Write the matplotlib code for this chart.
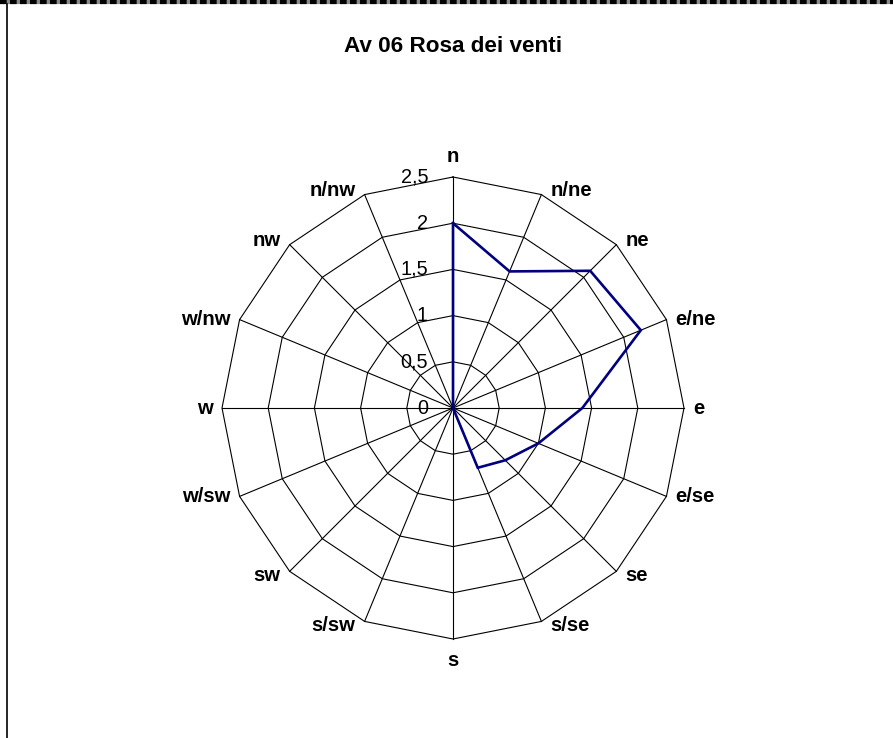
import numpy as np
import matplotlib.pyplot as plt
from matplotlib.lines import Line2D

plt.rcParams['font.family'] = ['Liberation Sans', 'DejaVu Sans']

# wind directions, clockwise from north
directions = ['n', 'n/ne', 'ne', 'e/ne', 'e', 'e/se', 'se', 's/se',
              's', 's/sw', 'sw', 'w/sw', 'w', 'w/nw', 'nw', 'n/nw']
values = [2.0, 1.6, 2.1, 2.2, 1.4, 1.0, 0.8, 0.7,
          0.0, 0.0, 0.0, 0.0, 0.0, 0.0, 0.0, 0.0]
ring_values = [0, 0.5, 1.0, 1.5, 2.0, 2.5]
ring_labels = ['0', '0,5', '1', '1,5', '2', '2,5']
title = 'Av 06 Rosa dei venti'

W, H = 893, 738
cx, cy = 453, 738 - 408          # centre of the rose, pixels from bottom-left
rmax = ring_values[-1]
scale = 231 / rmax               # pixels per unit

fig = plt.figure(figsize=(W / 100, H / 100), dpi=100)
ax = fig.add_axes([0, 0, 1, 1])
ax.set_xlim(-cx / scale, (W - cx) / scale)
ax.set_ylim(-cy / scale, (H - cy) / scale)
ax.axis('off')

n = len(directions)
theta = np.arange(n) * 2 * np.pi / n
sx, cy_ = np.sin(theta), np.cos(theta)

def closed(a):
    return np.append(a, a[0])

# polygon rings
for r in ring_values[1:]:
    ax.plot(closed(r * sx), closed(r * cy_), color='black', lw=0.8)

# spokes
for s, c in zip(sx, cy_):
    ax.plot([0, rmax * s], [0, rmax * c], color='black', lw=0.8)

# data series
v = np.array(values)
ax.plot(closed(v * sx), closed(v * cy_), color='#000080', lw=1.9,
        solid_joinstyle='miter')

# value axis labels
for r, lab in zip(ring_values, ring_labels):
    ax.text(-0.27, r, lab, ha='right', va='center', fontsize=14.3)

# direction labels, pushed out from the outer ring
for name, s, c in zip(directions, sx, cy_):
    if abs(s) < 0.1:
        x, y = 0, (rmax + 21 / scale) * np.sign(c)
        ha = 'center'
    else:
        x = rmax * s + 9 / scale * np.sign(s)
        y = rmax * c + 4 / scale * np.sign(c) * (abs(c) > 0.5)
        ha = 'left' if s > 0 else 'right'
    ax.text(x, y, name, ha=ha, va='center', fontsize=14.6, fontweight='bold')

fig.text(cx / W, 1 - 47 / H, title, ha='center', va='center',
         fontsize=16.2, fontweight='bold')

# frame: dashed top edge and left edge
fig.add_artist(Line2D([0, 1], [1 - 2 / H, 1 - 2 / H], transform=fig.transFigure,
                      color='#888888', lw=3))
fig.add_artist(Line2D([0, 1], [1 - 2 / H, 1 - 2 / H], transform=fig.transFigure,
                      color='black', lw=3, dashes=(1.6, 0.8)))
fig.add_artist(Line2D([6.5 / W, 6.5 / W], [0, 1 - 4 / H], transform=fig.transFigure,
                      color='black', lw=1.2))

fig.savefig('out.png', dpi=100, facecolor='white')
